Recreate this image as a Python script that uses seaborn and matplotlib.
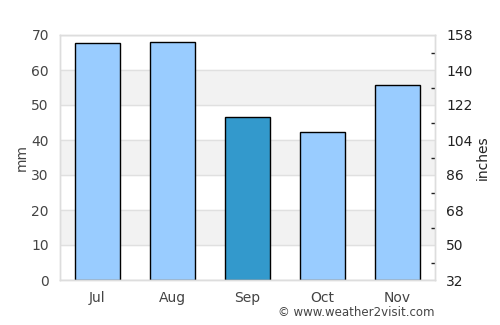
import matplotlib
matplotlib.use("Agg")
import matplotlib.pyplot as plt
import seaborn as sns
import pandas as pd
from matplotlib.ticker import FixedLocator

months = ["Jul", "Aug", "Sep", "Oct", "Nov"]
rain_mm = [67.7, 68.0, 46.6, 42.3, 55.7]
bar_colors = ["#99ccff", "#99ccff", "#3399cc", "#99ccff", "#99ccff"]
left_ticks = [0, 10, 20, 30, 40, 50, 60, 70]
right_ticks = [32, 50, 68, 86, 104, 122, 140, 158]

sns.set_style("white")
plt.rcParams['font.family'] = ['DejaVu Sans']

df = pd.DataFrame({"month": months, "mm": rain_mm})

fig = plt.figure(figsize=(5, 3.25), dpi=100)
ax = fig.add_axes([60/500, 45/325, 375/500, 245/325])

for lo in (10, 30, 50):
    ax.axhspan(lo, lo + 10, color="#f2f2f2", zorder=0)
for t in left_ticks:
    ax.axhline(t, color="#e0e0e0", lw=1, zorder=0.5)

sns.barplot(data=df, x="month", y="mm", hue="month", palette=bar_colors,
            saturation=1, legend=False, width=0.6, edgecolor="black",
            linewidth=1, ax=ax, zorder=2)

ax.set_ylim(0, 70)
ax.set_xlim(-0.5, 4.5)
ax.set_yticks(left_ticks)
ax.set_xlabel("")
ax.set_ylabel("mm", color="#444444", fontsize=10, labelpad=2)
ax.tick_params(axis="both", colors="#444444", labelsize=10, length=0, pad=8)
for s in ax.spines.values():
    s.set_color("#dddddd")
    s.set_linewidth(1)

ax2 = ax.twinx()
ax2.set_ylim(32, 158)
ax2.set_yticks(right_ticks)
minor = [(a + b) / 2 for a, b in zip(right_ticks[:-1], right_ticks[1:])]
ax2.yaxis.set_minor_locator(FixedLocator(minor))
ax2.tick_params(axis="y", which="minor", direction="in", length=3, width=1,
                colors="#222222")
ax2.tick_params(axis="y", which="major", length=0, colors="#222222",
                labelsize=10, pad=8)
ax2.set_ylabel("inches", color="#222222", fontsize=10, labelpad=2)
for s in ax2.spines.values():
    s.set_color("#dddddd")
    s.set_linewidth(1)

fig.text(435/500, 1 - 313/325, "© www.weather2visit.com", ha="right", va="center",
         fontsize=8.5, color="#444444")

fig.savefig("out.png", dpi=100)
